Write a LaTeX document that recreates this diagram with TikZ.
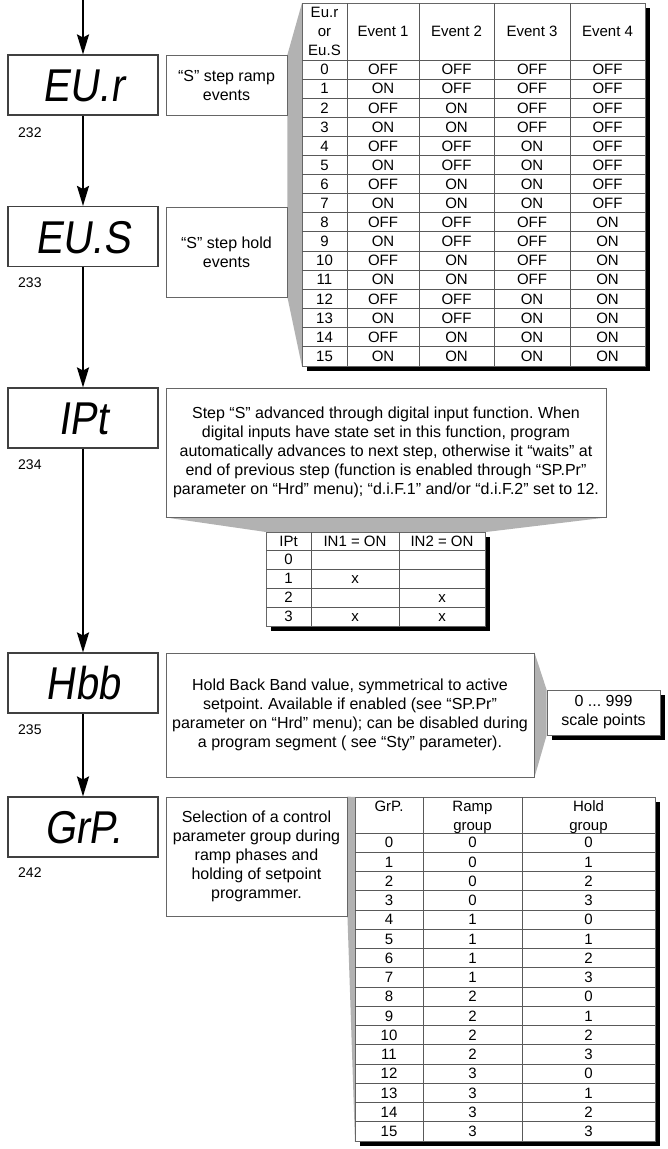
\documentclass[tikz,border=0pt]{standalone}
\usepackage{fontspec}
\setmainfont{Liberation Sans}
\newfontfamily\lcdfont[FakeSlant=0.15,FakeStretch=0.88]{Liberation Sans}
\usetikzlibrary{arrows.meta,shadows,backgrounds}
\frenchspacing

\tikzset{
  lcd/.style={draw=black!75, line width=1.1pt, minimum width=150pt, minimum height=60pt, inner sep=0pt,
    text height=33pt, text depth=0pt, font=\lcdfont\fontsize{46}{46}\selectfont},
  infobox/.style={draw=black!60, line width=0.9pt, align=center, inner sep=0pt,
    font=\fontsize{16}{19}\selectfont},
  menunum/.style={anchor=west, inner sep=0pt, font=\fontsize{14}{14}\selectfont},
  flow/.style={line width=2pt, -{Stealth[length=20pt,width=12pt,inset=3pt]}},
  wedgefill/.style={fill=black!30},
  tabframe/.style={draw=black!60, line width=0.9pt, fill=white, inner sep=0pt,
    drop shadow={shadow xshift=5pt, shadow yshift=-5pt, opacity=1, fill=black}},
  tabline/.style={draw=black!65, line width=0.9pt},
  cell/.style={inner sep=0pt, text height=10.5pt, text depth=0pt, font=\fontsize{15}{15}\selectfont},
  headcell/.style={inner sep=0pt, anchor=north, align=center, font=\fontsize{15}{19}\selectfont},
}

\begin{document}
\begin{tikzpicture}[x=1pt,y=-1pt]
\useasboundingbox (0,0) rectangle (668,1149);

% display boxes on the left
\node[lcd] (eur) at (83,85) {EU.r};
\node[lcd] (eus) at (83,236.5) {EU.S};
\node[lcd] (ipt) at (83,418) {IPt};
\node[lcd] (hbb) at (83,683) {Hbb};
\node[lcd] (grp) at (83,827) {GrP.};

\node[menunum] (n232) at (18,133) {232};
\node[menunum] (n233) at (18,283) {233};
\node[menunum] (n234) at (18,465) {234};
\node[menunum] (n235) at (18,730) {235};
\node[menunum] (n242) at (18,873) {242};

\coordinate (start) at (83,0);
\draw[flow] (start) -- (eur);
\draw[flow] (eur) -- (eus);
\draw[flow] (eus) -- (ipt);
\draw[flow] (ipt) -- (hbb);
\draw[flow] (hbb) -- (grp);

% descriptions
\node[infobox, minimum width=121pt, minimum height=60pt] (eurtxt) at (226.5,85) {“S” step ramp\\events};
\node[infobox, minimum width=121pt, minimum height=90pt] (eustxt) at (226.5,252) {“S” step hold\\events};
\node[infobox, minimum width=440pt, minimum height=129pt] (ipttxt) at (386,452.5)
  {Step “S” advanced through digital input function. When\\digital inputs have state set in this function, program\\automatically advances to next step, otherwise it “waits” at\\end of previous step (function is enabled through “SP.Pr”\\parameter on “Hrd” menu); “d.i.F.1” and/or “d.i.F.2” set to 12.};
\node[infobox, minimum width=368pt, minimum height=124pt] (hbbtxt) at (350,715)
  {Hold Back Band value, symmetrical to active\\setpoint. Available if enabled (see “SP.Pr”\\parameter on “Hrd” menu); can be disabled during\\a program segment ( see “Sty” parameter).};
\node[infobox, fill=white, minimum width=113pt, minimum height=45pt,
  drop shadow={shadow xshift=5pt, shadow yshift=-5pt, opacity=1, fill=black}] (hbbrange) at (603.5,712.5) {0 ... 999\\scale points};
\node[infobox, minimum width=181pt, minimum height=119pt] (grptxt) at (256.5,856.5)
  {Selection of a control\\parameter group during\\ramp phases and\\holding of setpoint\\programmer.};

% event table
\node[tabframe, anchor=north west, minimum width=343pt, minimum height=362.6pt] (evtab) at (302,3) {};
\foreach \k in {0,...,15}
  \draw[tabline] (302,{60+19.1*\k}) -- (645,{60+19.1*\k});
\foreach \xc in {347,419,494,570}
  \draw[tabline] (\xc,3) -- (\xc,365.6);
\node[headcell] (evh0) at (324.5,6.6) {Eu.r\\or\\Eu.S};
\foreach \c/\xc in {1/383,2/456.5,3/532,4/607.5}
  \node[cell] (evh\c) at (\xc,31.5) {Event \c};
\foreach \r in {0,...,15} {
  \node[cell] (ev\r-0) at (324.5,{60+19.1*(\r+0.5)}) {\r};
  \foreach \c/\xc in {1/383,2/456.5,3/532,4/607.5} {
    \pgfmathtruncatemacro{\bit}{mod(floor(\r/2^(\c-1)),2)}
    \node[cell] (ev\r-\c) at (\xc,{60+19.1*(\r+0.5)}) {\ifnum\bit=1 ON\else OFF\fi};
  }
}

% digital input table
\node[tabframe, anchor=north west, minimum width=219pt, minimum height=94pt] (ipttab) at (266,532) {};
\foreach \yy in {550,569,588,607}
  \draw[tabline] (266,\yy) -- (485,\yy);
\foreach \xc in {311,399}
  \draw[tabline] (\xc,532) -- (\xc,626);
\node[cell] (ipth0) at (288.5,541) {IPt};
\node[cell] (ipth1) at (355,541) {IN1 = ON};
\node[cell] (ipth2) at (442,541) {IN2 = ON};
\foreach \r in {0,...,3}
  \node[cell] (ipt\r) at (288.5,{550+19*(\r+0.5)}) {\r};
\node[cell] (ipt1a) at (355,578.5) {x};
\node[cell] (ipt2b) at (442,597.5) {x};
\node[cell] (ipt3a) at (355,616.5) {x};
\node[cell] (ipt3b) at (442,616.5) {x};

% group table
\node[tabframe, anchor=north west, minimum width=300pt, minimum height=344pt] (grptab) at (355,797) {};
\foreach \k in {0,...,15}
  \draw[tabline] (355,{833+19.25*\k}) -- (655,{833+19.25*\k});
\foreach \xc in {423,522}
  \draw[tabline] (\xc,797) -- (\xc,1141);
\node[cell] (grph0) at (389,806) {GrP.};
\node[headcell] (grph1) at (472.5,800.6) {Ramp\\group};
\node[headcell] (grph2) at (588.5,800.6) {Hold\\group};
\foreach \r in {0,...,15} {
  \pgfmathtruncatemacro{\rg}{floor(\r/4)}
  \pgfmathtruncatemacro{\hg}{mod(\r,4)}
  \node[cell] (grp\r-0) at (389,{833+19.25*(\r+0.5)}) {\r};
  \node[cell] (grp\r-1) at (472.5,{833+19.25*(\r+0.5)}) {\rg};
  \node[cell] (grp\r-2) at (588.5,{833+19.25*(\r+0.5)}) {\hg};
}

% grey callout wedges
\begin{scope}[on background layer]
\fill[wedgefill] (eurtxt.north east) -- (evtab.north west) -- (evtab.south west) -- (eustxt.south east) -- cycle;
\fill[wedgefill] (ipttxt.south west) -- (ipttab.north west) -- (ipttab.north east) -- (ipttxt.south east) -- cycle;
\fill[wedgefill] (hbbtxt.north east) -- (hbbrange.north west) -- (hbbrange.south west) -- (hbbtxt.south east) -- cycle;
\fill[wedgefill] (grptxt.north east) -- (grptab.north west) -- (grptab.south west) -- (grptxt.south east) -- cycle;
\end{scope}
\end{tikzpicture}
\end{document}
